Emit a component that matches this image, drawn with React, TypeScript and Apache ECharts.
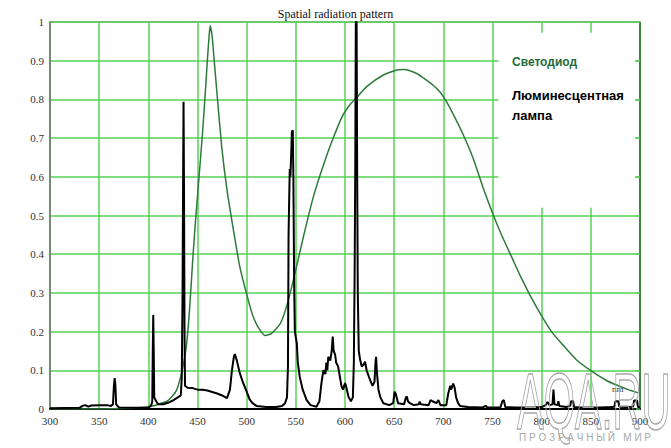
import React, { useEffect, useRef } from "react";
import * as echarts from "echarts";

const titleText = "Spatial radiation pattern";
const ledLabel = "Светодиод";
const lampLabel1 = "Люминесцентная";
const lampLabel2 = "лампа";
const unitLabel = "nm";

const xMin = 300;
const xMax = 900;
const xStep = 50;
const yMin = 0;
const yMax = 1;
const yStep = 0.1;

// LED (green) spectrum [wavelength nm, relative intensity]
const ledSpectrum: [number, number][] = [
  [300, 0], [350, 0.0], [380, 0.002], [400, 0.005], [410, 0.012], [419, 0.02],
  [425, 0.035], [429, 0.05], [433, 0.085], [436, 0.12], [439, 0.17], [442, 0.26],
  [445, 0.38], [447.5, 0.47], [450, 0.55], [452.5, 0.63], [455, 0.71], [458, 0.82],
  [460, 0.9], [462, 0.97], [463, 0.99], [465, 0.96], [467, 0.9], [470, 0.81],
  [474.6, 0.678], [480, 0.566], [486.5, 0.463], [493, 0.368], [503.5, 0.264],
  [508, 0.23], [513.6, 0.204], [518.7, 0.19], [525, 0.195], [534, 0.22], [540, 0.26],
  [547.5, 0.333], [557.7, 0.445], [568, 0.55], [578, 0.63], [588, 0.7], [597, 0.755],
  [605, 0.786], [612, 0.805], [622, 0.833], [639, 0.863], [653, 0.876], [660, 0.877],
  [673, 0.867], [680, 0.855], [690, 0.836], [697, 0.818], [703, 0.795], [710, 0.762],
  [720, 0.71], [730, 0.65], [740, 0.575], [751, 0.5], [760, 0.445], [770, 0.39],
  [779, 0.34], [790, 0.285], [801, 0.236], [810, 0.2], [820, 0.17], [835, 0.128],
  [850, 0.099], [865, 0.075], [876, 0.062], [888, 0.05], [898, 0.042],
];

// Fluorescent lamp (black) spectrum [wavelength nm, relative intensity]
const lampSpectrum: [number, number][] = [
  [300, 0.002], [330, 0.003], [333, 0.008], [336, 0.01], [339, 0.006], [342, 0.009],
  [350, 0.01], [358, 0.01], [362, 0.008], [364, 0.012], [365, 0.06], [365.8, 0.08],
  [366.5, 0.06], [367.3, 0.012], [370, 0.004], [385, 0.003], [400, 0.003], [403, 0.01],
  [404, 0.02], [404.5, 0.15], [405, 0.243], [405.5, 0.15], [406, 0.03], [408, 0.02],
  [410, 0.012], [415, 0.012], [420, 0.016], [425, 0.022], [430, 0.03], [433, 0.035],
  [434, 0.08], [434.8, 0.3], [435.3, 0.56], [435.8, 0.794], [436.3, 0.56], [436.8, 0.2],
  [437.3, 0.06], [440, 0.055], [445, 0.054], [450, 0.05], [455, 0.05], [460, 0.048],
  [465, 0.044], [470, 0.04], [475, 0.035], [480, 0.028], [483, 0.05], [485, 0.1],
  [487, 0.135], [488, 0.142], [490, 0.125], [493, 0.093], [496, 0.07], [500, 0.045],
  [503, 0.025], [506, 0.015], [510, 0.008], [520, 0.005], [530, 0.005], [536, 0.008],
  [539, 0.015], [541, 0.03], [542, 0.11], [542.6, 0.45], [543.8, 0.62], [544.5, 0.6],
  [545.3, 0.66], [546, 0.717], [546.9, 0.72], [547.5, 0.6], [548.3, 0.32], [549, 0.2],
  [551, 0.17], [552, 0.12], [554, 0.083], [557, 0.05], [561, 0.023], [565, 0.01],
  [571, 0.006], [574, 0.02], [576, 0.066], [578, 0.1], [580, 0.09], [581, 0.12],
  [582, 0.1], [583, 0.135], [585, 0.125], [586.5, 0.15], [587.5, 0.187], [588.5, 0.15],
  [590, 0.14], [591, 0.12], [593, 0.11], [595, 0.08], [596.5, 0.058], [598, 0.05],
  [600, 0.067], [601, 0.06], [603.5, 0.032], [606, 0.02], [608, 0.03], [609, 0.12],
  [609.8, 0.35], [610.5, 0.655], [611, 1.0], [611.8, 1.0], [612.3, 0.655], [613, 0.3],
  [614, 0.15], [615.4, 0.127], [617, 0.11], [619, 0.115], [620.4, 0.122], [622, 0.1],
  [625.5, 0.075], [628, 0.06], [630, 0.07], [631, 0.12], [631.6, 0.135], [632.3, 0.1],
  [634, 0.05], [636, 0.03], [639, 0.015], [645, 0.01], [649, 0.015], [650.5, 0.045],
  [651.5, 0.04], [654, 0.015], [660, 0.012], [662, 0.03], [663, 0.032], [664, 0.02],
  [666, 0.015], [670, 0.01], [675, 0.012], [676, 0.019], [677, 0.012], [685, 0.01],
  [687, 0.023], [689, 0.02], [693, 0.015], [695, 0.023], [697, 0.01], [703, 0.01],
  [705, 0.04], [707, 0.06], [708, 0.05], [710, 0.066], [711.5, 0.055], [713, 0.03],
  [715, 0.015], [717, 0.008], [725, 0.005], [740, 0.004], [743, 0.008], [745, 0.004],
  [758, 0.004], [760, 0.02], [761.5, 0.023], [763, 0.005], [775, 0.004], [790, 0.004],
  [800, 0.005], [804, 0.01], [806, 0.018], [808, 0.01], [811, 0.012], [812, 0.05],
  [813, 0.012], [816, 0.01], [817, 0.02], [818, 0.008], [825, 0.005], [829, 0.008],
  [830, 0.02], [832, 0.02], [833, 0.005], [840, 0.004], [850, 0.004], [860, 0.004],
  [870, 0.005], [874, 0.006], [875, 0.02], [878, 0.02], [879, 0.006], [885, 0.005],
  [893, 0.006], [894, 0.022], [897, 0.022], [898, 0.005], [900, 0.004],
];

// Blank legend box (data coordinates)
const legendBox = { x0: 756, x1: 895, y0: 0.52, y1: 0.972 };

const GRID_GREEN = "#55d055";
const SERIF = "'Liberation Serif', 'DejaVu Serif', serif";
const SANS = "'Liberation Sans', Arial, sans-serif";

export default function App() {
  const ref = useRef<HTMLDivElement>(null);

  useEffect(() => {
    if (!ref.current) return;
    const chart = echarts.init(ref.current, undefined, { renderer: "svg" });
    chart.setOption({
      animation: false,
      backgroundColor: "#ffffff",
      title: {
        text: titleText,
        left: "center",
        top: 3,
        textStyle: { fontFamily: SERIF, fontSize: 12, fontWeight: "normal", color: "#111" },
      },
      grid: {
        left: 50,
        right: 31,
        top: 22,
        bottom: 39,
        show: true,
        borderColor: "#666",
        borderWidth: 1,
        backgroundColor: "transparent",
      },
      xAxis: {
        type: "value",
        min: xMin,
        max: xMax,
        interval: xStep,
        axisLine: { show: true, lineStyle: { color: "#000", width: 2 } },
        axisTick: { show: false },
        axisLabel: { fontFamily: SERIF, fontSize: 11, color: "#333", margin: 6 },
        splitLine: { show: true, lineStyle: { color: GRID_GREEN, width: 1.5 } },
      },
      yAxis: [
        {
          type: "value",
          min: yMin,
          max: yMax,
          interval: yStep,
          axisLine: { show: true, lineStyle: { color: "#777", width: 1.5 } },
          axisTick: { show: false },
          axisLabel: {
            fontFamily: SERIF,
            fontSize: 11,
            color: "#333",
            margin: 6,
            formatter: (v: number) => (v === 0 ? "0" : v === 1 ? "1" : v.toFixed(1)),
          },
          splitLine: { show: true, lineStyle: { color: GRID_GREEN, width: 1.5 } },
        },
        {
          type: "value",
          position: "right",
          min: yMin,
          max: yMax,
          interval: yStep,
          axisLine: { show: true, lineStyle: { color: "#2d6e2d", width: 1.5 } },
          axisTick: { show: true, inside: true, length: 4, lineStyle: { color: GRID_GREEN, width: 1.5 } },
          axisLabel: { show: false },
          splitLine: { show: false },
        },
      ],
      series: [
        {
          name: ledLabel,
          type: "line",
          data: ledSpectrum,
          showSymbol: false,
          smooth: 0.2,
          lineStyle: { color: "#2e7a3c", width: 1.5 },
          z: 2,
          markArea: {
            silent: true,
            itemStyle: { color: "#ffffff", opacity: 1 },
            data: [[
              { coord: [legendBox.x0, legendBox.y1] },
              { coord: [legendBox.x1, legendBox.y0] },
            ]],
          },
        },
        {
          name: lampLabel1 + " " + lampLabel2,
          type: "line",
          data: lampSpectrum,
          showSymbol: false,
          lineStyle: { color: "#000", width: 2 },
          z: 3,
        },
      ],
      graphic: [
        {
          type: "text",
          x: 512,
          y: 62,
          z: 100,
          style: { text: ledLabel, fill: "#1f6b3a", fontSize: 12, fontWeight: "bold", fontFamily: SANS, verticalAlign: "middle" },
        },
        {
          type: "text",
          x: 512,
          y: 95,
          z: 100,
          style: { text: lampLabel1, fill: "#000", fontSize: 13, fontWeight: "bold", fontFamily: SANS, verticalAlign: "middle" },
        },
        {
          type: "text",
          x: 512,
          y: 115,
          z: 100,
          style: { text: lampLabel2, fill: "#000", fontSize: 13, fontWeight: "bold", fontFamily: SANS, verticalAlign: "middle" },
        },
        {
          type: "text",
          x: 612,
          y: 389,
          z: 100,
          style: { text: unitLabel, fill: "#333", fontSize: 9, fontFamily: SERIF, verticalAlign: "middle" },
        },
        {
          type: "text",
          x: 517,
          y: 401,
          scaleX: 0.5,
          z: 100,
          style: {
            text: "AQA.RU",
            fill: "rgba(0,0,0,0)",
            stroke: "#a8a8a8",
            lineWidth: 1.5,
            fontSize: 80,
            fontFamily: SANS,
            verticalAlign: "middle",
          },
        },
        {
          type: "text",
          x: 519,
          y: 437,
          z: 100,
          style: {
            text: "П Р О З Р А Ч Н Ы Й   М И Р",
            fill: "#a8a8a8",
            fontSize: 10,
            fontFamily: SANS,
            verticalAlign: "middle",
          },
        },
      ],
    });
    return () => chart.dispose();
  }, []);

  return (
    <div
      ref={ref}
      style={{ position: "fixed", left: 0, top: 0, width: 671, height: 448, background: "#fff" }}
    />
  );
}
